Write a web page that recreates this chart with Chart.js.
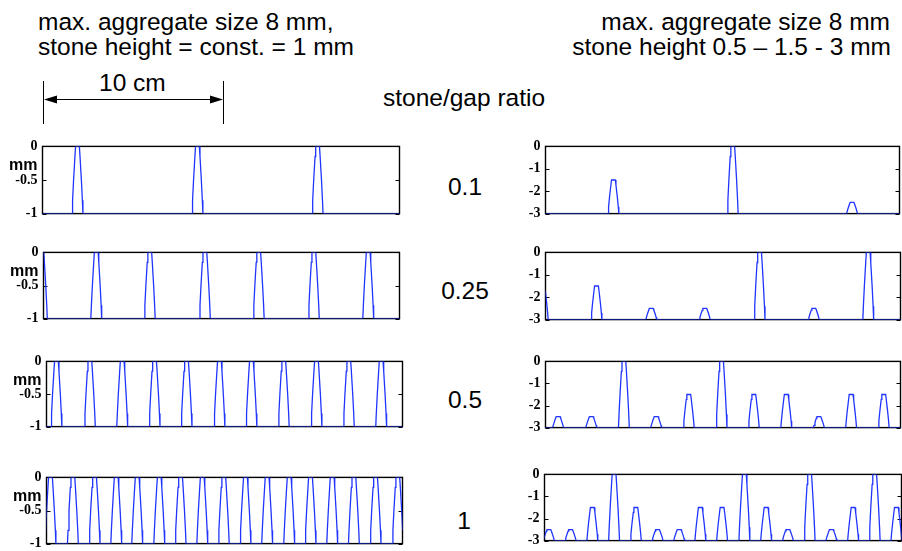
<!DOCTYPE html>
<html>
<head>
<meta charset="utf-8">
<script src="https://cdn.jsdelivr.net/npm/chart.js@4/dist/chart.umd.min.js"></script>
<style>
  body { margin: 0; background: #fff; }
  #page { position: relative; width: 902px; height: 551px; overflow: hidden;
          font-family: "Liberation Sans", Arial, sans-serif; color: #000; background: #fff; }
  .t { position: absolute; font-size: 24.5px; line-height: 24.5px; white-space: nowrap; }
  .r { text-align: right; }
  .c { text-align: center; width: 100px; }
  canvas { position: absolute; }
</style>
</head>
<body>
<div id="page">
  <div class="t" style="left:38px; top:10px;">max. aggregate size 8 mm,</div>
  <div class="t" style="left:38px; top:35px;">stone height = const. = 1 mm</div>
  <div class="t r" style="right:12px; top:10px;">max. aggregate size 8 mm</div>
  <div class="t r" style="right:11px; top:35px;">stone height 0.5 – 1.5 - 3 mm</div>
  <div class="t" style="left:99px; top:71px;">10 cm</div>
  <div class="t" style="left:383px; top:86px;">stone/gap ratio</div>
  <svg style="position:absolute; left:0; top:0;" width="260" height="130">
    <line x1="43.5" y1="81" x2="43.5" y2="124" stroke="#000" stroke-width="1"/>
    <line x1="223.5" y1="81" x2="223.5" y2="124" stroke="#000" stroke-width="1"/>
    <line x1="55" y1="99.5" x2="212" y2="99.5" stroke="#000" stroke-width="1.2"/>
    <polygon points="44,99.5 57,95.5 57,103.5" fill="#000"/>
    <polygon points="223,99.5 210,95.5 210,103.5" fill="#000"/>
  </svg>
  <div id="ratios"></div>
</div>
<script>
// x extent of every profile, mm
const xRangeMm = [0, 197];

// cross-section of one stone: offsets from its centre (mm) and fraction of its height
const stoneOffsets = [-3, -2.7, -2.15, -1.4, -1.05, 1.05, 1.4, 2.15, 2.7, 3];
const stoneShape   = [0, 0.2, 0.5, 0.85, 1, 1, 0.85, 0.5, 0.2, 0];

const ratioLabels = ['0.1', '0.25', '0.5', '1'];

// constant stone height 1 mm: stone centres (mm)
const constHeight = 1;
const constCenters01  = [19.3, 85.5, 151.8];
const constCenters025 = [-0.9, 29.2, 58.8, 89.3, 119.1, 149.6, 179.7];
const constCenters05  = [5.5, 24, 41.9, 59.8, 77.5, 95.7, 113.4, 131.3, 149.4, 167.3, 185.2];
const constCenters1   = [2.2, 14.6, 26.6, 38.6, 50.2, 62.4, 74.2, 86.2, 98.1, 110.1, 122.1,
                         134.3, 146.1, 158.1, 170.1, 182.1, 194.4];

// stone heights 0.5 / 1.5 / 3 mm: stone centres (mm) and heights (mm)
const mixCenters01  = [37.8, 104.2, 170.6];
const mixHeights01  = [1.5, 3, 0.5];
const mixCenters025 = [-1.5, 28.3, 58.7, 88.4, 118.8, 148.9, 179.1];
const mixHeights025 = [1.5, 1.5, 0.5, 0.5, 3, 0.5, 3];
const mixCenters05  = [7, 25.4, 43.5, 61.4, 79.5, 97.7, 115.6, 133.6, 151.7, 169.6, 187.7];
const mixHeights05  = [0.5, 0.5, 3, 0.5, 1.5, 3, 1.5, 1.5, 0.5, 1.5, 1.5];
const mixCenters1   = [2.4, 14.4, 26.4, 38.4, 50.4, 62.4, 74.3, 86, 98, 110.3, 122.3,
                       134.3, 146.3, 158.3, 170.3, 182.2, 194.2];
const mixHeights1   = [0.5, 0.5, 1.5, 3, 1.5, 0.5, 0.5, 1.5, 1.5, 3, 1.5, 0.5, 3, 0.5, 1.5, 3, 1.5];

// y tick labels
const constTicks = [0, -0.5, -1];
const mixTicks   = [0, -1, -2, -3];

// panel frames on the page: [left, top, right, bottom] of the plot box
const panels = [
  { centers: constCenters01,  heights: null,          depth: 1, ticks: constTicks, unit: true,  box: [42, 143, 399, 216] },
  { centers: mixCenters01,    heights: mixHeights01,  depth: 3, ticks: mixTicks,   unit: false, box: [545, 143, 899, 216] },
  { centers: constCenters025, heights: null,          depth: 1, ticks: constTicks, unit: true,  box: [43, 249, 399, 321] },
  { centers: mixCenters025,   heights: mixHeights025, depth: 3, ticks: mixTicks,   unit: false, box: [545, 249, 900, 322] },
  { centers: constCenters05,  heights: null,          depth: 1, ticks: constTicks, unit: true,  box: [46, 358, 402, 429] },
  { centers: mixCenters05,    heights: mixHeights05,  depth: 3, ticks: mixTicks,   unit: false, box: [545, 358, 900, 430] },
  { centers: constCenters1,   heights: null,          depth: 1, ticks: constTicks, unit: true,  box: [46, 474, 402, 546] },
  { centers: mixCenters1,     heights: mixHeights1,   depth: 3, ticks: mixTicks,   unit: false, box: [544, 471, 901, 543] }
];
const ratioCentersY = [187, 291, 400, 521];

// stone/gap ratio labels between the columns
const ratioBox = document.getElementById('ratios');
ratioLabels.forEach((txt, i) => {
  const d = document.createElement('div');
  d.className = 't c';
  d.style.left = (415 - (txt === '1' ? 1 : 0)) + 'px';
  d.style.top = (ratioCentersY[i] - 12) + 'px';
  d.textContent = txt;
  ratioBox.appendChild(d);
});

// surface profile: flat base with a stone cross-section at every centre
function profile(centers, heights, depth) {
  const pts = [{ x: xRangeMm[0] - 10, y: -depth }];
  centers.forEach((c, i) => {
    const h = heights ? heights[i] : constHeight;
    stoneOffsets.forEach((d, j) => pts.push({ x: c + d, y: -depth + h * stoneShape[j] }));
  });
  pts.push({ x: xRangeMm[1] + 10, y: -depth });
  return pts;
}

// boxed axes with inward ticks on both sides, plus the optional "mm" unit
const boxAxes = {
  id: 'boxAxes',
  beforeDatasetsDraw(chart, args, opts) {
    const { ctx, chartArea: a } = chart;
    const y = chart.scales.y;
    ctx.save();
    ctx.strokeStyle = '#000';
    ctx.lineWidth = 1.4;
    ctx.strokeRect(a.left, a.top, a.right - a.left, a.bottom - a.top);
    ctx.lineWidth = 1;
    ctx.beginPath();
    y.ticks.forEach(t => {
      const py = Math.round(y.getPixelForValue(t.value)) + 0.5;
      ctx.moveTo(a.left, py); ctx.lineTo(a.left + 4, py);
      ctx.moveTo(a.right - 4, py); ctx.lineTo(a.right, py);
    });
    ctx.stroke();
    if (opts.unit) {
      ctx.fillStyle = '#000';
      ctx.font = 'bold 16px "Liberation Sans", Arial, sans-serif';
      ctx.textAlign = 'right';
      ctx.textBaseline = 'middle';
      ctx.fillText('mm', a.left - 5, a.top + 19);
    }
    ctx.restore();
  }
};

const AXW = 48, PT = 10, PB = 10, PR = 6;
const page = document.getElementById('page');

panels.forEach(p => {
  const [bl, bt, br, bb] = p.box;
  const cv = document.createElement('canvas');
  const w = AXW + (br - bl) + 1 + PR;
  const h = (bb - bt) + 1 + PT + PB;
  cv.width = w; cv.height = h;
  cv.style.width = w + 'px'; cv.style.height = h + 'px';
  cv.style.left = (bl - AXW) + 'px';
  cv.style.top = (bt - PT) + 'px';
  page.appendChild(cv);

  new Chart(cv, {
    type: 'line',
    data: {
      datasets: [{
        data: profile(p.centers, p.heights, p.depth),
        borderColor: '#1f34ff',
        borderWidth: 1.3,
        pointRadius: 0,
        tension: 0,
        fill: false
      }]
    },
    options: {
      responsive: false,
      animation: false,
      devicePixelRatio: 1,
      events: [],
      layout: { padding: { left: 0.5, right: PR + 0.5, top: PT + 0.5, bottom: PB + 0.5 } },
      plugins: {
        legend: { display: false },
        tooltip: { enabled: false },
        boxAxes: { unit: p.unit }
      },
      scales: {
        x: { type: 'linear', min: xRangeMm[0], max: xRangeMm[1], display: false },
        y: {
          type: 'linear',
          min: -p.depth,
          max: 0,
          afterBuildTicks: s => { s.ticks = p.ticks.map(v => ({ value: v })); },
          afterFit: s => { s.width = AXW; },
          grid: { display: false, drawTicks: false },
          border: { display: false },
          ticks: {
            padding: 5,
            color: '#000',
            font: { family: '"Liberation Serif", "Times New Roman", serif', weight: 'bold', size: 14 },
            callback: v => String(v)
          }
        }
      }
    },
    plugins: [boxAxes]
  });
});
</script>
</body>
</html>
